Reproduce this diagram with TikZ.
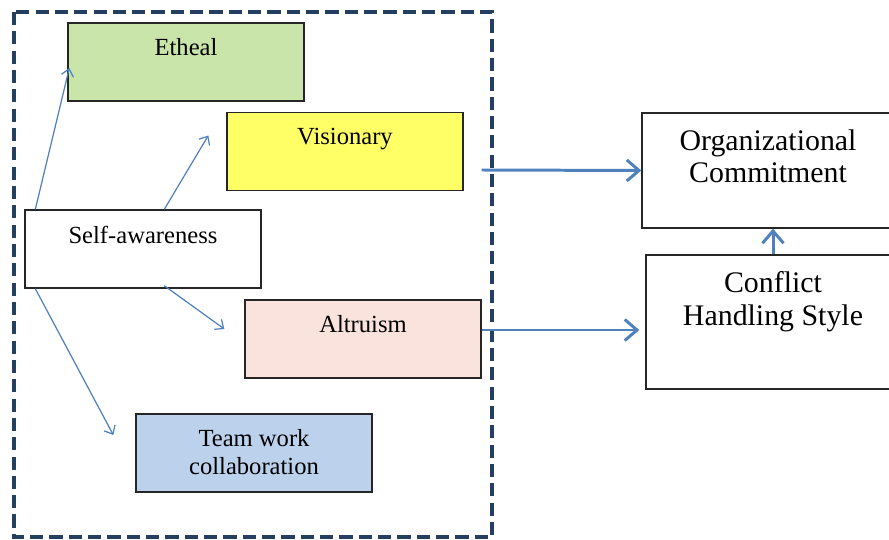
\documentclass[tikz,border=0pt]{standalone}
\usepackage{fontspec}
\setmainfont{Liberation Serif}
\usetikzlibrary{arrows.meta,calc}
\definecolor{Frame}{HTML}{243F60}
\definecolor{Link}{HTML}{4F81BD}
\definecolor{EthealFill}{HTML}{C9E5A9}
\definecolor{VisFill}{HTML}{FFFF66}
\definecolor{AltFill}{HTML}{F9E3DC}
\definecolor{TeamFill}{HTML}{BCD1EC}

\begin{document}
\begin{tikzpicture}[x=0.02cm,y=-0.02cm,
    box/.style={draw=black!85,line width=0.8pt,minimum width=4.72cm,minimum height=1.56cm,inner sep=0pt},
    bigbox/.style={draw=black!85,line width=0.8pt,inner sep=0pt},
    lbl/.style={anchor=north,inner sep=0pt,yshift=-9.2pt,align=center,font=\fontsize{14}{15.5}\selectfont},
    biglbl/.style={anchor=north,inner sep=0pt,yshift=-9.5pt,align=center,font=\fontsize{17}{18.7}\selectfont},
    link/.style={draw=Link,line width=0.7pt,-{Straight Barb[length=4pt,width=7pt]}},
    flow/.style={draw=Link,line width=1.7pt,-{Straight Barb[length=7pt,width=12pt]}},
    frame/.style={draw=Frame,line width=2.2pt,dash pattern=on 7.5pt off 3.5pt}]
  \useasboundingbox (0,0) rectangle (889,540);
  \draw[frame] (14,12) rectangle (492,537);
  % left group
  \node[box,fill=EthealFill,label={[lbl]north:Etheal}] (eth) at (186,62) {};
  \node[box,fill=VisFill,label={[lbl]north:Visionary}] (vis) at (345,151.5) {};
  \node[box,fill=white,label={[lbl]north:Self-awareness}] (self) at (143,249) {};
  \node[box,fill=AltFill,label={[lbl]north:Altruism}] (alt) at (363,339) {};
  \node[box,fill=TeamFill,label={[lbl]north:{Team work\\collaboration}}] (team) at (254,453) {};
  % outcomes
  \node[bigbox,minimum width=5.04cm,minimum height=2.3cm,
    label={[biglbl]north:{Organizational\\Commitment}}] (org) at (768,170.5) {};
  \node[bigbox,minimum width=5.08cm,minimum height=2.68cm,
    label={[biglbl]north:{Conflict\\Handling Style}}] (con) at (773,322) {};
  \draw[link] ($(self.north west)+(11,0)$) -- ($(eth.west)+(2,6)$);
  \draw[link] ($(self.north west)+(140,0)$) -- ($(vis.west)+(-18,-16)$);
  \draw[link] ($(self.south west)+(140,-3)$) -- ($(alt.west)+(-20,-10)$);
  \draw[link] ($(self.south west)+(11,0)$) -- ($(team.west)+(-22,-18)$);
  \draw[flow] ($(vis.east)+(18,18.5)$) -- (org.west);
  \draw[flow] ($(alt.east)+(0,-9)$) -- ($(alt.east -| con.west)+(-6,-9)$);
  \draw[flow] (con.north) -- (con.north |- org.south);
\end{tikzpicture}
\end{document}
